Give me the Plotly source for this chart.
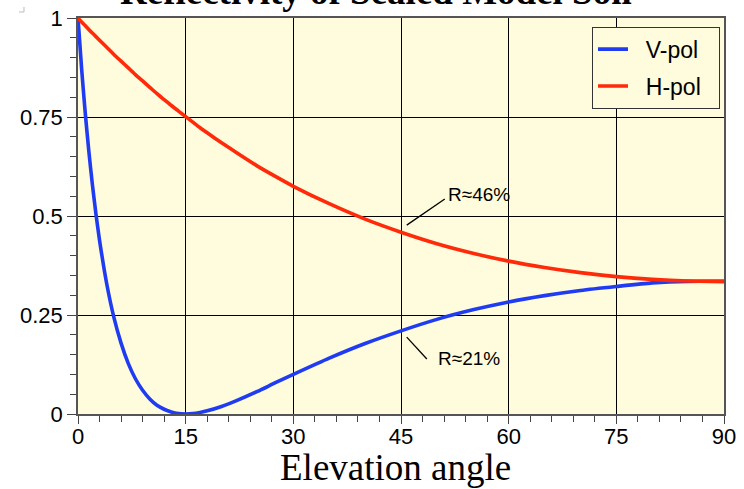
import plotly.graph_objects as go

# Elevation angle (degrees)
angle = [0, 0.5, 1, 1.5, 2, 2.5, 3, 4, 5, 6, 7, 8, 9, 10, 11, 12, 13, 14, 15,
         16, 17, 18, 20, 22, 25, 27.5, 30, 35, 40, 45, 50, 55, 60, 65, 70, 75,
         80, 85, 90]

# Reflectivity
v_pol = [1.0, 0.873, 0.762, 0.665, 0.580, 0.505, 0.439, 0.329, 0.244, 0.179,
         0.128, 0.089, 0.060, 0.038, 0.022, 0.012, 0.005, 0.001, 0.000,
         0.001, 0.004, 0.008, 0.019, 0.033, 0.057, 0.079, 0.100, 0.141,
         0.178, 0.210, 0.239, 0.263, 0.283, 0.299, 0.312, 0.322,
         0.331, 0.335, 0.335]
h_pol = [1.0, 0.990, 0.981, 0.971, 0.962, 0.953, 0.944, 0.926, 0.908, 0.891,
         0.874, 0.857, 0.841, 0.825, 0.809, 0.794, 0.779, 0.765, 0.751,
         0.737, 0.723, 0.710, 0.685, 0.661, 0.626, 0.600, 0.575, 0.531,
         0.492, 0.459, 0.430, 0.406, 0.386, 0.370, 0.357, 0.347,
         0.340, 0.336, 0.335]

x_ticks = [0, 15, 30, 45, 60, 75, 90]
y_ticks = [0, 0.25, 0.5, 0.75, 1]
y_tick_text = ["0", "0.25", "0.5", "0.75", "1"]

fig = go.Figure()
fig.add_trace(go.Scatter(x=angle, y=v_pol, mode="lines",
                         name="\u00a0\u00a0V-pol\u00a0\u00a0",
                         line=dict(color="#1f3cf2", width=3.6, shape="spline", smoothing=0.6),
                         legendgroup="v"))
fig.add_trace(go.Scatter(x=angle, y=h_pol, mode="lines",
                         name="\u00a0\u00a0H-pol\u00a0\u00a0",
                         line=dict(color="#ff2a0a", width=3.6, shape="spline", smoothing=0.6),
                         legendgroup="h"))

tick_font = dict(family="Liberation Sans, Arial, sans-serif", size=22, color="black")
serif = "Liberation Serif, Times New Roman, serif"

fig.update_xaxes(range=[0, 90], tickvals=x_ticks, showgrid=True, gridcolor="black",
                 gridwidth=1, zeroline=False, showline=True, linecolor="#555",
                 linewidth=1.5, mirror=True, ticks="outside", ticklen=8, tickwidth=1.2,
                 tickcolor="#444", tickfont=tick_font, automargin=False,
                 ticklabelstandoff=-6,
                 minor=dict(dtick=3, ticks="outside", ticklen=6, tickcolor="#444",
                            tickwidth=1.2, showgrid=False))
fig.update_yaxes(range=[0, 1], tickvals=y_ticks, ticktext=y_tick_text, showgrid=True,
                 gridcolor="black", gridwidth=1, zeroline=False, showline=True,
                 linecolor="#555", linewidth=1.5, mirror=True, ticks="outside",
                 ticklen=9, tickwidth=1.2, tickcolor="#444", tickfont=tick_font,
                 automargin=False,
                 minor=dict(dtick=0.05, ticks="outside", ticklen=6, tickcolor="#444",
                            tickwidth=1.2, showgrid=False))

# chart title (partly cut off at the top of the page, as in the reference)
fig.add_annotation(text="<b>Reflectivity of Sealed Model Soil</b>", xref="paper",
                   yref="paper", x=0.461, y=1, xanchor="center", yanchor="bottom",
                   yshift=4, showarrow=False,
                   font=dict(family=serif, size=37, color="black"))
# x-axis title
fig.add_annotation(text="Elevation angle", xref="paper", yref="paper", x=0.491, y=0,
                   xanchor="center", yanchor="bottom", yshift=-76, showarrow=False,
                   font=dict(family=serif, size=37, color="black"))

ann_font = dict(family="Liberation Sans, Arial, sans-serif", size=19, color="black")
fig.add_shape(type="line", xref="x", yref="y", x0=45.8, y0=0.477, x1=51.1, y1=0.543,
              line=dict(color="black", width=1.3))
fig.add_annotation(text="R≈46%", x=51.3, y=0.555, xref="x", yref="y", xanchor="left",
                   yanchor="middle", showarrow=False, font=ann_font)
fig.add_shape(type="line", xref="x", yref="y", x0=45.8, y0=0.194, x1=48.6, y1=0.139,
              line=dict(color="black", width=1.3))
fig.add_annotation(text="R≈21%", x=49.9, y=0.141, xref="x", yref="y", xanchor="left",
                   yanchor="middle", showarrow=False, font=ann_font)

# small grey corner mark at the top-left
fig.add_shape(type="path", xref="paper", yref="paper",
              path="M -0.0836 1.0278 L -0.0836 1.0152 L -0.0913 1.0152",
              line=dict(color="#bbb", width=1))

fig.update_layout(
    width=744, height=489,
    margin=dict(l=78, r=20, t=18, b=75),
    paper_bgcolor="white", plot_bgcolor="#fefcdc",
    showlegend=True,
    legend=dict(x=0.9938, y=0.978, xanchor="right", yanchor="top",
                bgcolor="#fefcdc", bordercolor="#333", borderwidth=1,
                itemwidth=30,
                font=dict(family="Liberation Sans, Arial, sans-serif", size=23,
                          color="black"),
                tracegroupgap=4, traceorder="grouped"),
)

fig.write_html("out.html", config={"displayModeBar": False},
               post_script="document.body.style.margin='0px';")
